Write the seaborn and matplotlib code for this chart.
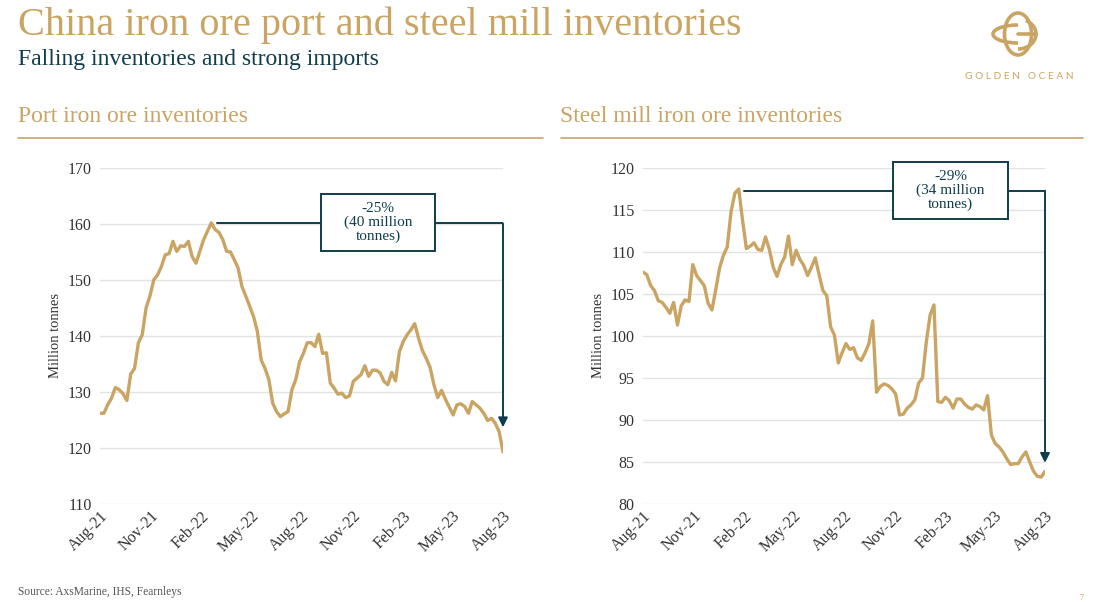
import numpy as np
import pandas as pd
import matplotlib
matplotlib.use("Agg")
import matplotlib.pyplot as plt
import matplotlib.dates as mdates
from matplotlib.patches import Rectangle, Ellipse, Arc
import seaborn as sns

# Weekly inventories, Aug-21 to Aug-23 (million tonnes)
port_inv = [126.2, 126.2, 127.7, 128.9, 130.8, 130.4, 129.7, 128.5, 133.2, 134.2,
            138.8, 140.2, 145.0, 147.1, 150.0, 150.9, 152.4, 154.5, 154.7, 156.9,
            155.1, 156.1, 156.0, 156.9, 154.2, 153.0, 155.1, 157.2, 158.7, 160.2,
            159.0, 158.5, 157.2, 155.1, 155.0, 153.6, 152.1, 148.8, 147.1, 145.3,
            143.5, 140.8, 135.7, 134.2, 132.2, 128.0, 126.5, 125.6, 126.1, 126.5,
            130.4, 132.2, 135.4, 136.9, 138.8, 138.8, 138.1, 140.3, 136.9, 137.0,
            131.6, 130.7, 129.6, 129.8, 129.0, 129.3, 131.9, 132.5, 133.1, 134.7,
            132.8, 133.9, 133.9, 133.4, 131.9, 131.3, 133.5, 132.0, 137.2, 139.0,
            140.2, 141.1, 142.2, 139.6, 137.4, 136.0, 134.4, 131.3, 129.0, 130.3,
            128.7, 127.3, 125.9, 127.7, 127.9, 127.4, 126.2, 128.3, 127.7, 127.1,
            126.2, 124.9, 125.3, 124.4, 122.9, 119.3]

mill_inv = [107.6, 107.3, 106.0, 105.4, 104.2, 104.0, 103.4, 102.7, 104.0, 101.3,
            103.6, 104.3, 104.1, 108.5, 107.2, 106.6, 106.0, 103.9, 103.1, 105.5,
            108.1, 109.6, 110.6, 114.8, 117.0, 117.5, 113.8, 110.4, 110.7, 111.1,
            110.3, 110.2, 111.8, 110.3, 108.2, 107.1, 108.5, 109.4, 111.9, 108.5,
            110.2, 109.1, 108.4, 107.2, 108.2, 109.3, 107.3, 105.4, 104.8, 101.1,
            100.1, 96.8, 98.0, 99.1, 98.4, 98.6, 97.4, 97.1, 98.0, 99.1,
            101.8, 93.3, 94.0, 94.3, 94.1, 93.7, 93.1, 90.6, 90.7, 91.4,
            91.8, 92.4, 94.4, 95.0, 99.3, 102.5, 103.7, 92.2, 92.1, 92.7,
            92.3, 91.4, 92.5, 92.5, 91.9, 91.5, 91.3, 91.8, 91.6, 91.2,
            92.9, 88.2, 87.2, 86.8, 86.2, 85.4, 84.7, 84.8, 84.8, 85.6,
            86.2, 85.0, 83.9, 83.3, 83.2, 83.9]

start, end = "2021-08-01", "2023-08-01"
port_df = pd.DataFrame({"date": pd.date_range(start, end, periods=len(port_inv)),
                        "value": port_inv})
mill_df = pd.DataFrame({"date": pd.date_range(start, end, periods=len(mill_inv)),
                        "value": mill_inv})

GOLD = "#C9A463"
TEAL = "#0F3D4C"
GRID = "#E3E3E3"
SERIF = ["Liberation Serif", "DejaVu Serif"]

sns.set_theme(style="white")
plt.rcParams["font.family"] = SERIF

W, H = 1095, 602
fig = plt.figure(figsize=(W / 100, H / 100), dpi=100)


def fx(px):
    return px / W


def fy(py):
    return 1 - py / H


# header
fig.text(fx(18), fy(35), "China iron ore port and steel mill inventories",
         color=GOLD, fontsize=29, va="baseline")
fig.text(fx(18), fy(65), "Falling inventories and strong imports",
         color=TEAL, fontsize=17, va="baseline")
fig.text(fx(18), fy(122), "Port iron ore inventories",
         color=GOLD, fontsize=17, va="baseline")
fig.text(fx(560), fy(122), "Steel mill iron ore inventories",
         color=GOLD, fontsize=17, va="baseline")
fig.add_artist(plt.Line2D([fx(18), fx(543)], [fy(138), fy(138)], color=GOLD, lw=1.2))
fig.add_artist(plt.Line2D([fx(561), fx(1083)], [fy(138), fy(138)], color=GOLD, lw=1.2))
fig.text(fx(18), fy(595), "Source: AxsMarine, IHS, Fearnleys",
         color="#555555", fontsize=8.3, va="baseline")
fig.text(fx(1080), fy(600), "7", color=GOLD, fontsize=6, va="baseline")

# logo
logo = fig.add_axes([fx(988), fy(70), fx(60), 60 / H])
logo.set_xlim(0, 60)
logo.set_ylim(0, 60)
logo.set_aspect("equal")
logo.axis("off")
logo.add_patch(Ellipse((30, 36), 27, 42, fill=False, ec=GOLD, lw=2.6))
logo.add_patch(Arc((30, 36), 50, 18, theta1=90, theta2=270, ec=GOLD, lw=2.6))
logo.add_patch(Arc((30, 36), 36, 30, theta1=-90, theta2=60, ec=GOLD, lw=2.6))
logo.plot([30, 48], [36, 36], color=GOLD, lw=2.6)
fig.text(fx(1019), fy(79), "G O L D E N   O C E A N", color=GOLD, fontsize=7.3,
         family=["Lato", "DejaVu Sans"], ha="center", va="baseline")


def draw_panel(ax, df, ylim, yticks, peak_val, arrow_val, box, lines):
    sns.lineplot(data=df, x="date", y="value", ax=ax, color=GOLD, lw=2.4)
    ax.set_ylim(*ylim)
    ax.set_yticks(yticks)
    ax.set_xlim(pd.Timestamp(start), pd.Timestamp(end))
    ax.xaxis.set_major_locator(mdates.MonthLocator(bymonth=[2, 5, 8, 11]))
    ax.xaxis.set_major_formatter(mdates.DateFormatter("%b-%y"))
    for s in ax.spines.values():
        s.set_visible(False)
    ax.grid(axis="y", color=GRID, lw=1)
    ax.grid(axis="x", visible=False)
    ax.tick_params(axis="both", length=0, labelsize=11.5, colors="#333333")
    ax.tick_params(axis="y", pad=6)
    ax.tick_params(axis="x", pad=3)
    for lab in ax.get_xticklabels():
        lab.set_rotation(45)
        lab.set_ha("right")
        lab.set_rotation_mode("anchor")
    ax.set_xlabel("")
    ax.set_ylabel("Million tonnes", fontsize=10.5, color="#333333", labelpad=4)

    # annotation: peak to latest
    peak_date = df.loc[df["value"].idxmax(), "date"]
    end_date = df["date"].iloc[-1]
    ax.plot([peak_date + pd.Timedelta(days=10), end_date], [peak_val, peak_val],
            color=TEAL, lw=1.4, zorder=4)
    ax.annotate("", xy=(end_date, arrow_val), xytext=(end_date, peak_val),
                arrowprops=dict(arrowstyle="-|>", color=TEAL, lw=1.4,
                                shrinkA=0, shrinkB=0, mutation_scale=14),
                zorder=4)
    x0, y0, x1, y1 = box
    ax.add_patch(Rectangle((x0, y0), x1 - x0, y1 - y0, transform=ax.transAxes,
                           facecolor="white", edgecolor=TEAL, lw=1.4,
                           zorder=5, clip_on=False))
    ax.text((x0 + x1) / 2, (y0 + y1) / 2, "\n".join(lines), transform=ax.transAxes,
            ha="center", va="center", color=TEAL, fontsize=11, zorder=6,
            linespacing=1.05)


ax1 = fig.add_axes([fx(100), fy(504), fx(403), 336 / H])
draw_panel(ax1, port_df, (110, 170), range(110, 171, 10), 160.1, 123.7,
           (0.548, 0.753, 0.831, 0.923), ["-25%", "(40 million", "tonnes)"])

ax2 = fig.add_axes([fx(643), fy(504), fx(402), 336 / H])
draw_panel(ax2, mill_df, (80, 120), range(80, 121, 5), 117.3, 84.9,
           (0.622, 0.848, 0.908, 1.018), ["-29%", "(34 million", "tonnes)"])

fig.savefig("out.png", dpi=100)
